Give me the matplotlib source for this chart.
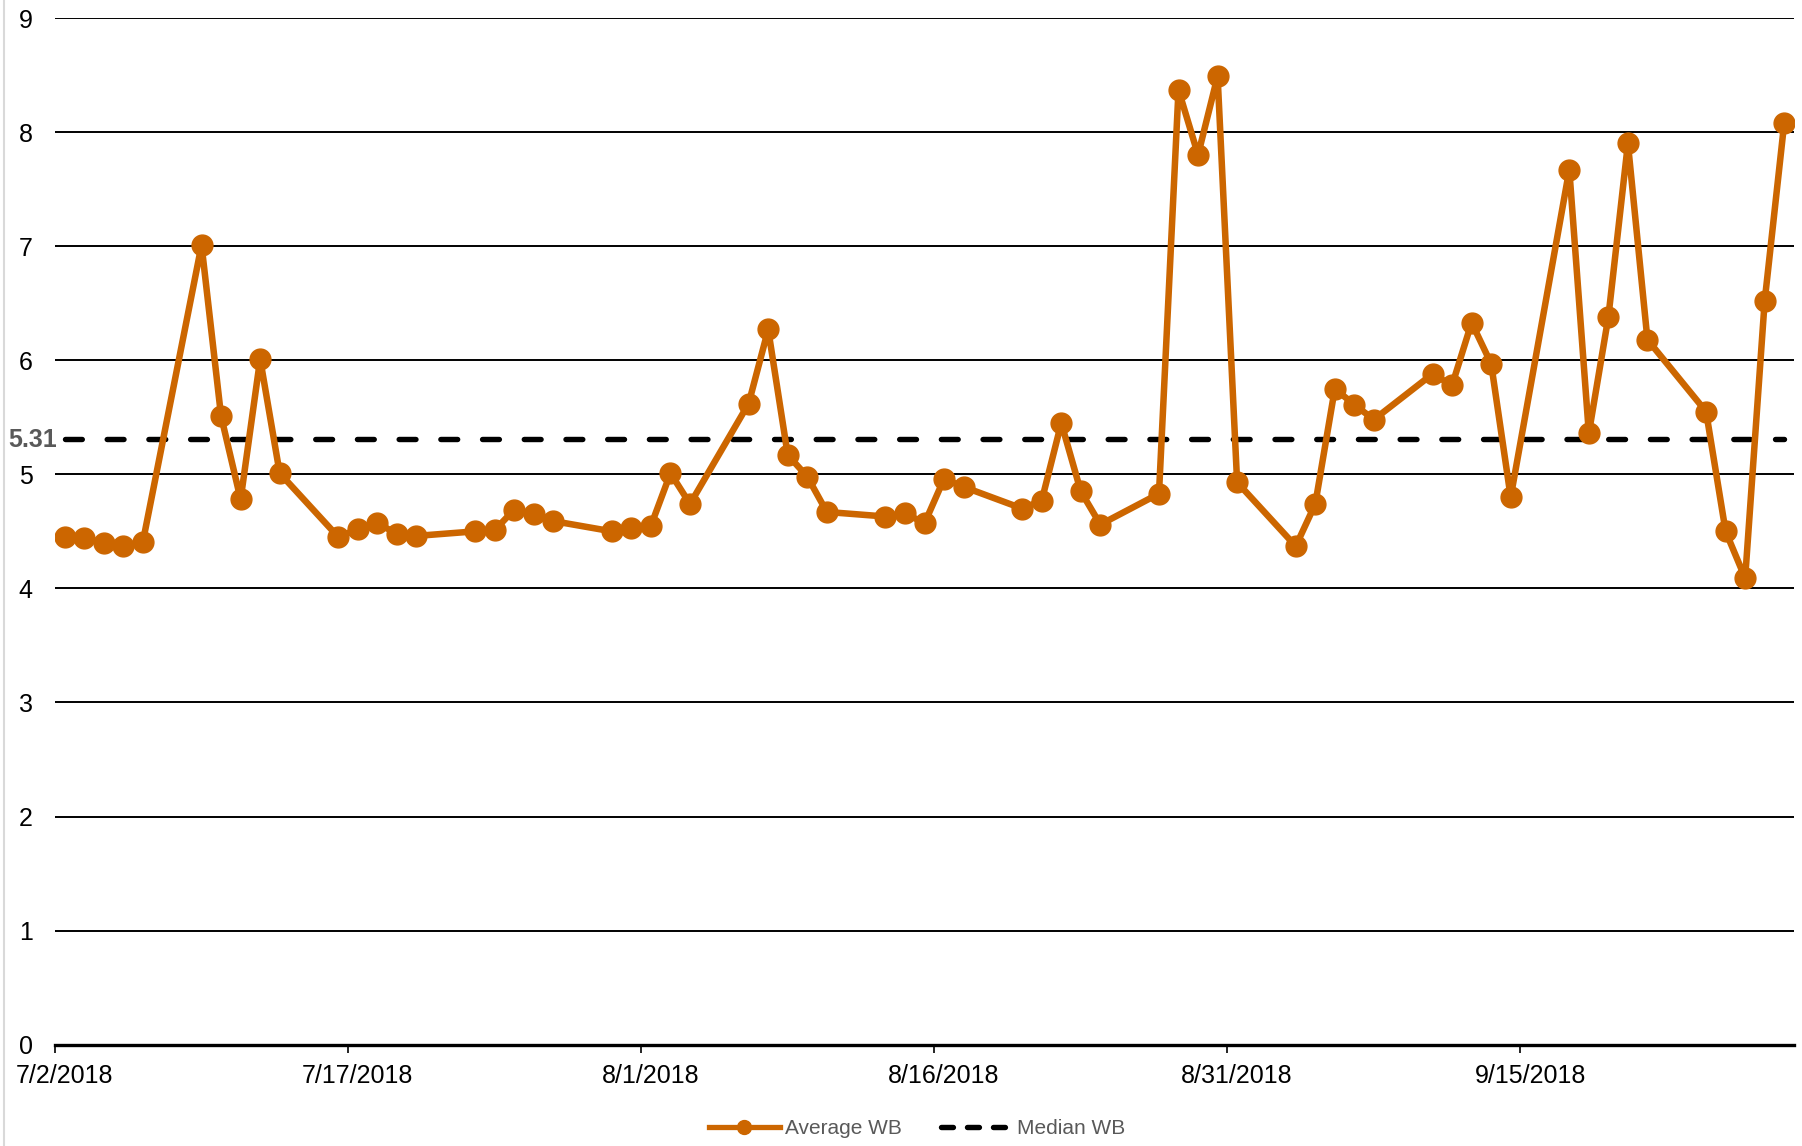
import matplotlib
matplotlib.use("Agg")
import matplotlib.pyplot as plt
from matplotlib.lines import Line2D
import pandas as pd

plt.rcParams['font.family'] = ['Liberation Sans', 'DejaVu Sans']

# Daily average WB readings (weekdays only)
dates = [
    "2018-07-02", "2018-07-03", "2018-07-04", "2018-07-05", "2018-07-06",
    "2018-07-09", "2018-07-10", "2018-07-11", "2018-07-12", "2018-07-13",
    "2018-07-16", "2018-07-17", "2018-07-18", "2018-07-19", "2018-07-20",
    "2018-07-23", "2018-07-24", "2018-07-25", "2018-07-26", "2018-07-27",
    "2018-07-30", "2018-07-31", "2018-08-01", "2018-08-02", "2018-08-03",
    "2018-08-06", "2018-08-07", "2018-08-08", "2018-08-09", "2018-08-10",
    "2018-08-13", "2018-08-14", "2018-08-15", "2018-08-16", "2018-08-17",
    "2018-08-20", "2018-08-21", "2018-08-22", "2018-08-23", "2018-08-24",
    "2018-08-27", "2018-08-28", "2018-08-29", "2018-08-30", "2018-08-31",
    "2018-09-03", "2018-09-04", "2018-09-05", "2018-09-06", "2018-09-07",
    "2018-09-10", "2018-09-11", "2018-09-12", "2018-09-13", "2018-09-14",
    "2018-09-17", "2018-09-18", "2018-09-19", "2018-09-20", "2018-09-21",
    "2018-09-24", "2018-09-25", "2018-09-26", "2018-09-27", "2018-09-28",
]
average_wb = [
    4.45, 4.44, 4.40, 4.37, 4.41,
    7.01, 5.51, 4.78, 6.01, 5.01,
    4.45, 4.52, 4.57, 4.48, 4.46,
    4.50, 4.51, 4.69, 4.65, 4.59,
    4.50, 4.53, 4.55, 5.01, 4.74,
    5.62, 6.27, 5.17, 4.98, 4.67,
    4.63, 4.66, 4.57, 4.96, 4.89,
    4.70, 4.77, 5.45, 4.85, 4.56,
    4.83, 8.37, 7.80, 8.49, 4.93,
    4.37, 4.74, 5.75, 5.61, 5.48,
    5.88, 5.78, 6.33, 5.97, 4.80,
    7.67, 5.36, 6.38, 7.90, 6.18,
    5.55, 4.50, 4.09, 6.52, 8.08,
]
median_wb = 5.31

x_tick_dates = ["2018-07-02", "2018-07-17", "2018-08-01", "2018-08-16", "2018-08-31", "2018-09-15"]
y_ticks = [0, 1, 2, 3, 4, 5, 6, 7, 8, 9]

ORANGE = "#CC6600"
GRAY_TEXT = "#595959"

day = pd.to_datetime(dates)
# each day's value sits in the middle of its date slot
x = day + pd.Timedelta(hours=12)

fig = plt.figure(figsize=(18.02, 11.46), dpi=100)
ax = fig.add_axes([55 / 1802, 101.3 / 1146, (1794 - 55) / 1802, (1044.7 - 18) / 1146])

for yv in y_ticks[1:]:
    ax.axhline(yv, color="black", lw=1.4, zorder=1)

ax.plot(x, average_wb, color=ORANGE, lw=4.7, marker="o", markersize=15,
        markerfacecolor=ORANGE, markeredgecolor=ORANGE, zorder=4, label="Average WB")

med_line, = ax.plot([x[0], x[-1]], [median_wb, median_wb], color="black", lw=3.9,
                    dash_capstyle="round", zorder=3, label="Median WB")
med_line.set_dashes((3.1, 4.6))

ax.annotate(f"{median_wb:.2f}", xy=(0, median_wb), xycoords=("axes fraction", "data"),
            xytext=(1.5, -1), textcoords="offset points", ha="right", va="center",
            fontsize=18, fontweight="bold", color=GRAY_TEXT)

x0 = pd.Timestamp("2018-07-02")
x1 = pd.Timestamp("2018-09-29")
ax.set_xlim(x0, x1)
ax.set_ylim(0, 9)

# tick marks at day boundaries, labels centred on the day slot
tick_days = pd.to_datetime(x_tick_dates)
ax.set_xticks(tick_days, minor=True)
ax.set_xticks(tick_days + pd.Timedelta(hours=12))
ax.set_xticklabels([f"{d.month}/{d.day}/{d.year}" for d in tick_days])
ax.tick_params(axis="x", which="minor", length=6, width=1.2, color="black", direction="out")
ax.tick_params(axis="x", which="major", length=0, pad=14, labelsize=18, labelcolor="black")

ax.set_yticks(y_ticks)
ax.set_yticklabels([str(v) for v in y_ticks])
ax.tick_params(axis="y", length=0, pad=16, labelsize=18, labelcolor="black")

for side in ("top", "right", "left"):
    ax.spines[side].set_visible(False)
ax.spines["bottom"].set_linewidth(2.4)
ax.spines["bottom"].set_color("black")
ax.spines["bottom"].set_zorder(5)

handles = [
    Line2D([], [], color=ORANGE, lw=3.8, marker="o", markersize=10, markerfacecolor=ORANGE,
           markeredgecolor=ORANGE),
    Line2D([], [], color="black", lw=3.9, dashes=(2.2, 2.6), dash_capstyle="round"),
]
fig.legend(handles, ["Average WB", "Median WB"], loc="center", bbox_to_anchor=(0.509, 0.015),
           ncol=2, frameon=False, fontsize=15, labelcolor=GRAY_TEXT, handlelength=3.4,
           handletextpad=0.25, columnspacing=1.9)

# chart area border on the left edge
fig.add_artist(Line2D([0.0022, 0.0022], [0, 1], transform=fig.transFigure, color="#D9D9D9", lw=1.5))

fig.savefig("out.png", dpi=100)
